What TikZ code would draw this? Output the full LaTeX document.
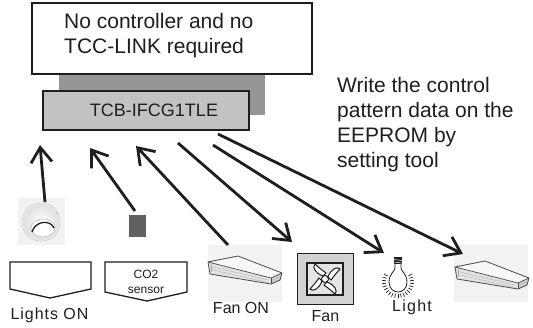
\documentclass[tikz,border=0pt]{standalone}
\usepackage{fontspec}
\setmainfont{Liberation Sans}
\usetikzlibrary{arrows.meta}
\definecolor{ink}{HTML}{1E1E1E}
\definecolor{boxgray}{HTML}{C2C2C2}
\definecolor{shadowgray}{HTML}{969696}
\definecolor{photobg}{HTML}{F2F2F2}
\begin{document}
\begin{tikzpicture}[x=1pt,y=-1pt,
  flow/.style={draw=ink, line width=2.8pt,
    -{Straight Barb[length=15pt,width=21pt,line width=2.8pt]}},
  bigtext/.style={font=\fontsize{21}{25}\selectfont, text=ink, align=left, inner sep=0pt},
  label/.style={font=\fontsize{16}{18}\selectfont, text=ink, inner sep=0pt},
  condition/.style={draw=ink, line width=1.3pt, fill=white, line join=miter},
  cassette/.pic={
    % ceiling cassette unit, seen from below
    \fill[gray!6] (0,6) -- (30,0) -- (74,17) -- (63,22) -- cycle;
    \fill[gray!22] (0,6) -- (63,22) -- (63,28) -- (2,18) -- cycle;
    \fill[gray!40] (63,22) -- (74,17) -- (72,24) -- (63,28) -- cycle;
    \draw[gray!55, line width=0.5pt] (5,11) -- (60,24) (5,14) -- (60,26.5)
      (65,24) -- (71,21);
    \draw[ink!80, line width=0.7pt] (0,6) -- (63,22) -- (74,17);
    \draw[ink!80, line width=0.7pt] (63,22) -- (63,28);
    \draw[ink!80, line width=0.8pt, line join=round]
      (0,6) -- (30,0) -- (74,17) -- (72,24) -- (63,28) -- (2,18) -- cycle;
    \draw[ink!60, line width=0.5pt] (3,8) -- (4,16);
  },
]
\useasboundingbox (0,0) rectangle (533,327);

% controller-free note
\node[draw=ink, line width=1.5pt, fill=white, minimum width=280pt, minimum height=71pt,
  inner sep=0pt] (note) at (172,38.5) {};
\node[bigtext, anchor=west] (notetext) at (64,36) {No controller and no\\TCC-LINK required};

% interface board with its shadow
\fill[shadowgray] (59,75) rectangle (265,115);
\node[draw=ink, line width=2pt, fill=boxgray, minimum width=206pt, minimum height=39pt,
  inner sep=0pt] (tcb) at (146,110.5) {};
\node[font=\fontsize{18}{20}\selectfont, text=ink, inner sep=0pt] (tcbtext) at (154,110.5) {TCB-IFCG1TLE};

% setting tool remark
\node[bigtext, anchor=west] (remark) at (337,124.5)
  {Write the control\\pattern data on the\\EEPROM by\\setting tool};

% smoke / occupancy detector
\fill[photobg] (18,198) rectangle (65,245);
\filldraw[fill=white, draw=gray!45, line width=0.6pt] (41,222) circle (19pt);
\shade[inner color=white, outer color=gray!25] (41,222) circle (18pt);
\filldraw[fill=white, draw=gray!55, line width=0.5pt] (43,228) ellipse (12pt and 9pt);
\draw[ink, line width=1.3pt] (32,232) .. controls (35,221) and (50,219) .. (54,228);
\fill[gray!40] (57,213) circle (1.5pt);

% CO2 sensor
\fill[ink!70] (129,215) rectangle (146,237);

% condition tags
\draw[condition] (10,262) -- (91,262) -- (91,289) -- (50,298) -- (10,289) -- cycle;
\draw[condition] (105,262) -- (187,262) -- (187,292) -- (147,301) -- (105,292) -- cycle;
\node[font=\fontsize{12}{15}\selectfont, text=ink, align=center, inner sep=0pt] (co2)
  at (146,281.5) {CO2\\sensor};

% ceiling units
\fill[photobg] (208,245) rectangle (282,302);
\pic at (208,256) {cassette};
\fill[photobg] (454,245) rectangle (528,302);
\pic at (455,261) {cassette};

% fan
\filldraw[fill=gray!35, draw=ink, line width=1pt] (297,253) rectangle (353,304);
\filldraw[fill=gray!20, draw=ink, line width=2pt] (307,263) rectangle (343,295);
\begin{scope}[shift={(325,279)}]
  \foreach \a in {0,90,180,270}{
    \filldraw[rotate=\a, fill=white, draw=ink, line width=1pt]
      (3,-2) .. controls (6,-10) and (12,-13) .. (15,-10)
      .. controls (12,-7) and (9,-3) .. (6,1) -- cycle;
  }
  \filldraw[fill=white, draw=ink, line width=1pt] (0,0) circle (3.5pt);
\end{scope}

% light bulb
\begin{scope}[shift={(398,282)}]
  \fill[ink] (-4,-25) rectangle (4,-18);
  \draw[white, line width=0.5pt] (-4,-22.5) -- (4,-21.5) (-4,-20) -- (4,-19);
  \draw[ink, line width=0.8pt] (-3,-18) -- (-3,-14)
    .. controls (-3,-11) and (-9,-8) .. (-9,0)
    .. controls (-9,7) and (-4,10) .. (0,10)
    .. controls (4,10) and (9,7) .. (9,0)
    .. controls (9,-8) and (3,-11) .. (3,-14) -- (3,-18);
  \foreach \a in {-30,-18,...,210}{
    \draw[ink, line width=0.7pt] (\a:12) -- (\a:16);
  }
\end{scope}

% bottom labels
\node[label] (lightson) at (49.5,315) {\addfontfeature{LetterSpace=6}Lights ON};
\node[label] (fanon) at (241,308) {Fan ON};
\node[label] (fan) at (325.5,316) {Fan};
\node[label] (light) at (412,307) {\addfontfeature{LetterSpace=8}Light};

% signal connectors
\coordinate (detTop) at (45,202);
\coordinate (detIn) at (40,145);
\coordinate (co2Top) at (135,211);
\coordinate (co2In) at (90,148);
\coordinate (unitTop) at (228,245);
\coordinate (unitIn) at (136,146);
\coordinate (outFan) at (178,143);
\coordinate (fanTip) at (292,242);
\coordinate (outLight) at (213,145);
\coordinate (lightTip) at (384,253);
\coordinate (outUnit) at (218,134);
\coordinate (unitTip) at (463,254);

\draw[flow] (detTop) -- (detIn);
\draw[flow] (co2Top) -- (co2In);
\draw[flow] (unitTop) -- (unitIn);
\draw[flow] (outFan) -- (fanTip);
\draw[flow] (outLight) -- (lightTip);
\draw[flow] (outUnit) -- (unitTip);
\end{tikzpicture}
\end{document}
